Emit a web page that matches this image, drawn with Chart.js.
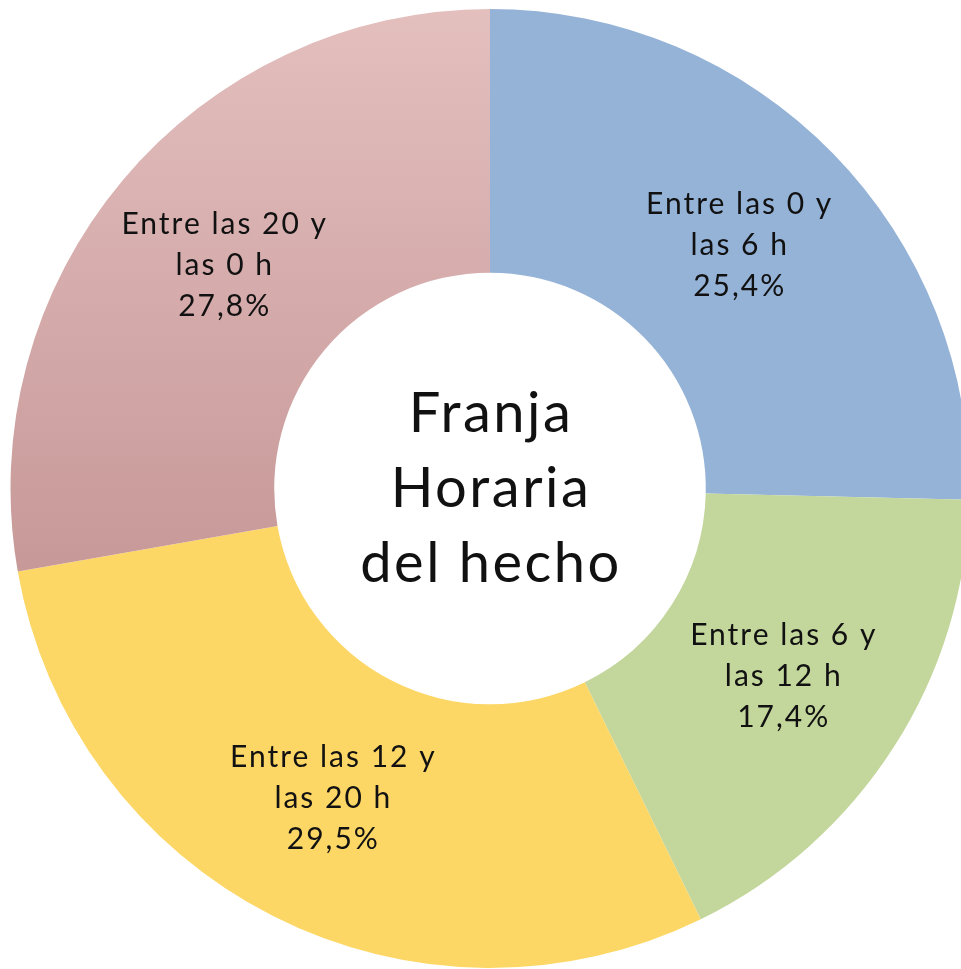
<!DOCTYPE html>
<html>
<head>
<meta charset="utf-8">
<script src="https://cdn.jsdelivr.net/npm/chart.js@4.4.1/dist/chart.umd.min.js"></script>
<style>
  html, body { margin: 0; padding: 0; background: #fff; overflow: hidden; }
  #wrap { position: absolute; left: 0; top: 0; width: 980px; height: 977px; }
</style>
</head>
<body>
<div id="wrap"><canvas id="franjaChart"></canvas></div>
<script>
// datos
const franjas = [
    ['Entre las 0 y', 'las 6 h'],
    ['Entre las 6 y', 'las 12 h'],
    ['Entre las 12 y', 'las 20 h'],
    ['Entre las 20 y', 'las 0 h']
];
const porcentajes = [25.4, 17.4, 29.5, 27.8];
const colores = ['#95B3D7', '#C3D69B', '#FDD766', null]; // el último lleva degradado
const tituloCentro = ['Franja', 'Horaria', 'del hecho'];

const FUENTE = 'Lato, "Open Sans", sans-serif';

const etiquetasPlugin = {
    id: 'etiquetas',
    afterDatasetsDraw(chart) {
        const ctx = chart.ctx;
        const meta = chart.getDatasetMeta(0);
        ctx.save();
        ctx.fillStyle = '#111';
        ctx.textAlign = 'center';
        ctx.textBaseline = 'middle';
        ctx.font = '30px ' + FUENTE;
        ctx.letterSpacing = '2px';
        meta.data.forEach(function (arc, i) {
            const p = arc.getProps(['x', 'y', 'startAngle', 'endAngle', 'innerRadius', 'outerRadius']);
            const mid = (p.startAngle + p.endAngle) / 2;
            const r = (p.innerRadius + p.outerRadius) / 2;
            const cx = p.x + Math.cos(mid) * r + 1;
            const cy = p.y + Math.sin(mid) * r;
            const lineas = franjas[i].concat([porcentajes[i].toFixed(1).replace('.', ',') + '%']);
            const alto = 41;
            lineas.forEach(function (t, j) {
                ctx.fillText(t, cx, cy + (j - (lineas.length - 1) / 2) * alto);
            });
        });

        // texto central
        const a0 = meta.data[0];
        ctx.font = '56px ' + FUENTE;
        ctx.letterSpacing = '2.5px';
        tituloCentro.forEach(function (t, j) {
            ctx.fillText(t, a0.x + 1, a0.y + (j - 1) * 75);
        });
        ctx.restore();
    }
};

const ctx = document.getElementById('franjaChart').getContext('2d');

new Chart(ctx, {
    type: 'doughnut',
    data: {
        labels: franjas.map(f => f.join(' ')),
        datasets: [{
            data: porcentajes,
            backgroundColor: function (c) {
                if (c.dataIndex !== 3) return colores[c.dataIndex];
                const area = c.chart.chartArea;
                if (!area) return '#D9AEAE';
                const g = c.chart.ctx.createLinearGradient(0, area.top, 0, area.top + 570);
                g.addColorStop(0, '#E3BFBE');
                g.addColorStop(1, '#C79898');
                return g;
            },
            borderWidth: 0
        }]
    },
    options: {
        responsive: true,
        maintainAspectRatio: false,
        animation: false,
        cutout: '45%',
        layout: { padding: { left: 10.5, right: 10.5, top: 9, bottom: 9 } },
        plugins: {
            legend: { display: false },
            tooltip: { enabled: false }
        }
    },
    plugins: [etiquetasPlugin]
});
</script>
</body>
</html>
